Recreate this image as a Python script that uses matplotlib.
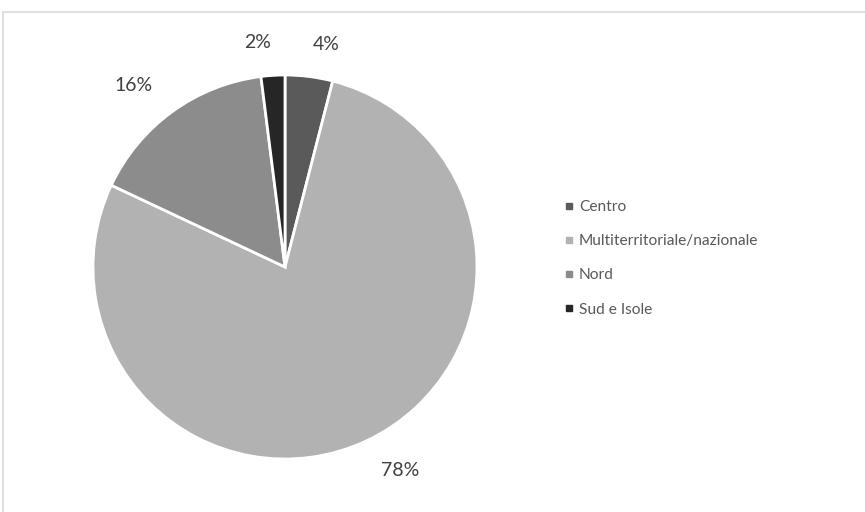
import matplotlib.pyplot as plt
from matplotlib.lines import Line2D
from matplotlib.patches import Rectangle

regions = ["Centro", "Multiterritoriale/nazionale", "Nord", "Sud e Isole"]
shares = [4, 78, 16, 2]
colors = ["#5a5a5a", "#b2b2b2", "#8c8c8c", "#262626"]

plt.rcParams['font.family'] = ['Lato', 'DejaVu Sans']

fig = plt.figure(figsize=(8.65, 5.12), dpi=100)

# thin grey frame round the chart area
fig.patches.append(Rectangle((3 / 865, -0.05), 1.1, 1 - 12 / 512 + 0.05,
                             transform=fig.transFigure, fill=False,
                             edgecolor="#d9d9d9", linewidth=1.2))

ax = fig.add_axes([93 / 865, 1 - 459 / 512, 384 / 865, 384 / 512])
wedges, texts = ax.pie(shares, colors=colors, startangle=90, counterclock=False,
                       labels=[f"{v}%" for v in shares], labeldistance=1.17,
                       wedgeprops=dict(edgecolor="white", linewidth=2),
                       textprops=dict(color="#404040", fontsize=14))
ax.set_xlim(-1, 1)
ax.set_ylim(-1, 1)
ax.set_aspect("equal")

handles = [Line2D([], [], marker="s", linestyle="", color=c, markersize=5)
           for c in colors]
fig.legend(handles, regions, loc="upper left", bbox_to_anchor=(550 / 865, 1 - 186 / 512),
           frameon=False, fontsize=11.2, labelcolor="#595959",
           handlelength=0.6, handletextpad=0.35, labelspacing=1.3)

fig.savefig("out.png", dpi=100)
